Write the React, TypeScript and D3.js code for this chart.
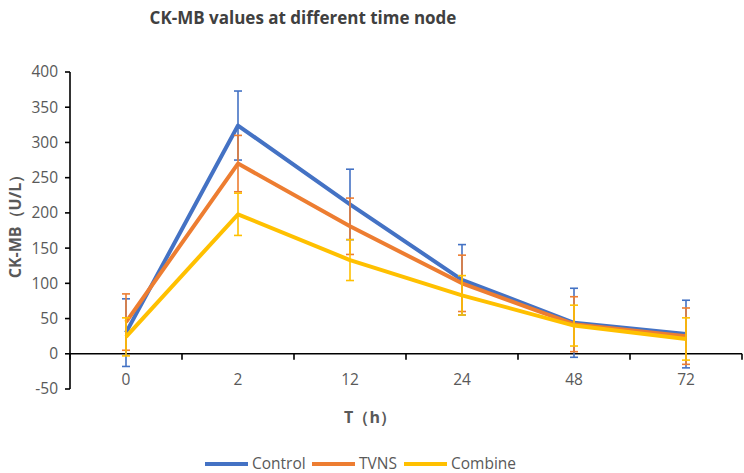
import React from "react";
import * as d3 from "d3";

// Time nodes (hours) and CK-MB means ± SD per group
const timeNodes = ["0", "2", "12", "24", "48", "72"];
const controlMean = [30, 324, 212, 105, 44, 28];
const controlSd = [48, 49, 50, 50, 49, 48];
const tvnsMean = [45, 270, 181, 100, 42, 25];
const tvnsSd = [40, 40, 40, 40, 39, 40];
const combineMean = [24, 198, 133, 83, 40, 21];
const combineSd = [27, 30, 29, 28, 29, 30];
const yTicks = [-50, 0, 50, 100, 150, 200, 250, 300, 350, 400];

const seriesNames = ["Control", "TVNS", "Combine"];
const seriesColors = ["#4472C4", "#ED7D31", "#FFC000"];

const W = 744;
const H = 473;
const FONT = "'Open Sans', 'Noto Sans', sans-serif";
const GRAY = "#595959";

export default function App() {
  const series = [
    { name: seriesNames[0], mean: controlMean, sd: controlSd, color: seriesColors[0] },
    { name: seriesNames[1], mean: tvnsMean, sd: tvnsSd, color: seriesColors[1] },
    { name: seriesNames[2], mean: combineMean, sd: combineSd, color: seriesColors[2] },
  ];

  const x = d3.scaleBand<string>().domain(timeNodes).range([70, 742]).padding(0);
  const y = d3.scaleLinear().domain([-50, 400]).range([389, 72]);
  const cx = (t: string) => (x(t) as number) + x.bandwidth() / 2;

  const line = d3
    .line<number>()
    .x((_, i) => cx(timeNodes[i]))
    .y((v) => y(v));

  const boundaries = timeNodes.map((t) => x(t) as number).concat([742]);
  const legendX = [205, 312, 404];

  return (
    <svg
      width={W}
      height={H}
      style={{ position: "absolute", left: 0, top: 0, background: "#fff" }}
      fontFamily={FONT}
    >
      <text x={303} y={24} textAnchor="middle" fontSize={17} fontWeight="bold" fill="#404040">
        CK-MB values at different time node
      </text>

      {/* y axis */}
      <line x1={70} x2={70} y1={y(400)} y2={y(-50)} stroke="#000" strokeWidth={1.6} />
      {yTicks.map((t) => (
        <g key={t}>
          <line x1={65} x2={70} y1={y(t)} y2={y(t)} stroke="#000" strokeWidth={1.6} />
          <text x={58} y={y(t)} dy="0.35em" textAnchor="end" fontSize={15.5} fill={GRAY}>
            {t}
          </text>
        </g>
      ))}
      <text
        transform={`translate(15,${(y(400) + y(-50)) / 2 - 8}) rotate(-90)`}
        textAnchor="middle"
        dy="0.35em"
        fontSize={16}
        fontWeight="bold"
        fill={GRAY}
      >
        CK-MB（U/L）
      </text>

      {/* x axis at zero */}
      <line x1={70} x2={742} y1={y(0)} y2={y(0)} stroke="#000" strokeWidth={1.6} />
      {boundaries.map((b, i) => (
        <line key={i} x1={b} x2={b} y1={y(0)} y2={y(0) + 6} stroke="#000" strokeWidth={1.6} />
      ))}
      {timeNodes.map((t) => (
        <text key={t} x={cx(t)} y={380} dy="0.35em" textAnchor="middle" fontSize={15.5} fill={GRAY}>
          {t}
        </text>
      ))}
      <text x={370} y={417} dy="0.35em" textAnchor="middle" fontSize={16} fontWeight="bold" fill={GRAY}>
        T（h）
      </text>

      {/* series: line then error bars */}
      {series.map((s) => (
        <g key={s.name}>
          <path d={line(s.mean) || ""} fill="none" stroke={s.color} strokeWidth={4} strokeLinejoin="round" />
          {s.mean.map((m, i) => {
            const px = cx(timeNodes[i]);
            const top = y(m + s.sd[i]);
            const bot = y(m - s.sd[i]);
            return (
              <g key={i} stroke={s.color} strokeWidth={1.6}>
                <line x1={px} x2={px} y1={top} y2={bot} />
                <line x1={px - 4} x2={px + 4} y1={top} y2={top} />
                <line x1={px - 4} x2={px + 4} y1={bot} y2={bot} />
              </g>
            );
          })}
        </g>
      ))}

      {/* legend */}
      {series.map((s, i) => (
        <g key={s.name} transform={`translate(${legendX[i]},464)`}>
          <line x1={0} x2={43} y1={0} y2={0} stroke={s.color} strokeWidth={4} />
          <text x={47} y={0} dy="0.35em" fontSize={15.5} fill={GRAY}>
            {s.name}
          </text>
        </g>
      ))}
    </svg>
  );
}
